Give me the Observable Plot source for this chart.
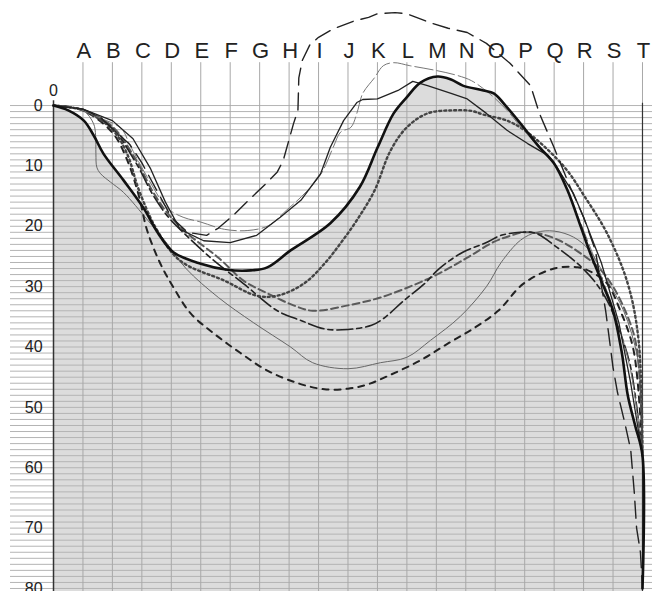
<!DOCTYPE html>
<html>
<head>
<meta charset="utf-8">
<script src="https://cdn.jsdelivr.net/npm/d3@7"></script>
<script src="https://cdn.jsdelivr.net/npm/@observablehq/plot@0.6"></script>
<style>
  html, body { margin: 0; padding: 0; background: #fff; }
  #chart svg { display: block; }
</style>
</head>
<body>
<div id="chart"></div>
<script>
// Column labels along the top (positions 1..20)
const columnLabels = ["A","B","C","D","E","F","G","H","I","J","K","L","M","N","O","P","Q","R","S","T"];
// Depth ticks (downward)
const depthTicks = [0, 10, 20, 30, 40, 50, 60, 70, 80];
const minorDepths = d3.range(0, 81, 1);

// Series: [position, depth]
const thickSolid = [[0,0],[0.5,0.8],[1.03,2.5],[1.37,5],[1.7,8],[2.38,12.4],[3.06,17],[3.53,21],[4.07,24.3],[5,26.2],[5.9,27.2],[6.7,27.3],[7.26,26.8],[8.05,24],[9.4,19.5],[10.4,13.5],[11,7],[11.55,1.3],[12,-1.4],[12.46,-3.8],[13.04,-4.8],[13.5,-4.3],[13.9,-3.3],[14.6,-2.5],[14.95,-2],[15.4,0.3],[15.96,3.6],[16.5,6.9],[17,9.6],[17.45,14],[17.9,20],[18.23,24.5],[18.6,29],[19.0,34],[19.3,41],[19.5,48],[19.75,53],[20,58],[20,80]];
const dotted = [[0,0],[1,0.8],[2,4],[2.5,8],[2.9,14],[3.5,20.5],[4.3,25.7],[5.8,29],[6.9,31.5],[7.6,31.5],[8.5,29.5],[9.2,26.2],[9.75,22.8],[10.3,19],[10.9,14.1],[11.44,7.5],[12,3.6],[12.7,1.3],[13.5,0.8],[14.2,0.9],[14.6,1.5],[15.4,2.5],[16,4.1],[16.8,7.4],[17.45,10.8],[18,14.8],[18.8,21.2],[19.5,29.5],[19.87,39],[20,58]];
const thinGraySolid = [[0,0],[1.0,0.8],[1.36,3],[1.43,5],[1.44,8],[1.47,10.2],[1.6,11.3],[1.94,12.7],[2.38,14.4],[3.2,19],[3.8,22.5],[4.5,27],[5.6,31.8],[6.8,36],[8.05,40],[8.8,42.6],[10,43.6],[11.1,42.6],[12,41.7],[12.8,38.9],[13.8,35],[14.7,30],[15.2,26],[15.86,22.3],[16.4,21],[17,20.8],[17.66,21.8],[18.2,24],[18.8,29],[19.36,34],[19.83,41.7],[19.93,47.7],[20,58]];
const thinBlackSolid = [[0,0],[1,0.6],[2,2.5],[2.7,5.5],[3.3,10.5],[3.8,16],[4.3,20.5],[5.1,22.4],[6.0,22.7],[6.9,21.5],[7.7,18.5],[8.4,15.7],[9.07,11.3],[9.4,6.9],[9.85,2.5],[10.3,-0.5],[10.5,-1],[11,-1.1],[11.7,-2.5],[12.2,-4],[12.7,-3.3],[13.5,-2],[14.05,-1.1],[14.7,1.3],[15.4,4.1],[16.1,6.3],[16.8,8.3],[17.1,10.3],[17.66,14.6],[18,18.5],[18.6,26],[19.2,36],[19.6,46],[20,58]];
const thinGrayDashed = [[0,0],[0.8,0.5],[1.6,2.1],[2.3,3.8],[2.6,6.6],[3.2,12],[3.87,17],[4.4,18.5],[5.0,19.3],[5.8,20.5],[6.6,20.7],[7.3,19.9],[7.9,17.4],[8.6,14.2],[9.1,11.2],[9.5,6.9],[9.75,4.4],[10.1,3.6],[10.3,1.3],[10.5,-2],[10.9,-4.6],[11.2,-6.6],[11.55,-7.1],[12.1,-6.6],[13.0,-5.8],[13.7,-5],[14.2,-4.1],[14.8,-2],[15.4,0.8],[15.96,4.1],[16.6,7.5],[17.1,10.5],[17.9,19.5],[18.5,27],[19.1,35],[19.6,44],[20,58]];
const longDash = [[0,0],[1,0.6],[1.6,2],[2.6,6.5],[3.0,9.5],[3.5,14],[4.0,18.5],[4.55,21],[5.2,21.5],[5.6,20.3],[6.1,18.2],[6.6,15.8],[7.2,13],[7.6,11],[7.8,9.1],[8.15,3],[8.3,0.8],[8.33,-4.6],[8.45,-7.5],[8.7,-10],[9.0,-11.3],[9.5,-12.7],[10.2,-14],[10.7,-14.6],[11,-15.2],[11.6,-15.4],[12.0,-15.2],[12.8,-13.7],[13.4,-12.8],[14.05,-12.1],[14.7,-10.3],[15.5,-7],[16.2,-3.3],[16.5,1.3],[17,7],[17.5,13],[18,18.5],[18.4,24],[18.75,34],[19.0,43.4],[19.15,47.5],[19.4,52.6],[19.6,57],[19.72,64],[19.8,70],[19.93,74],[20,80]];
const mediumDashGray = [[0,0],[1,0.7],[2,3.5],[2.8,9],[3.4,14.5],[3.9,18],[4.55,21.2],[5.6,25.2],[6.45,29],[7.26,31.1],[8.15,33.1],[8.8,34],[10,33.1],[11.1,31.8],[12.2,29.8],[13.1,27.8],[14.05,25.2],[14.95,22.6],[15.5,21.6],[15.96,21],[16.5,21.2],[17.2,22.4],[17.9,24.5],[18.5,26.8],[19,30],[19.5,35],[19.8,40],[20,58]];
const dashDot = [[0,0],[1,0.7],[2,3.8],[2.8,9.5],[3.4,15],[3.9,18.5],[4.4,21],[5.4,25.5],[6.45,29.5],[7.6,34],[8.4,35.6],[9.2,37],[10,37.1],[10.8,36.4],[11.2,35.3],[11.9,32.3],[12.6,29.5],[13.1,27],[13.9,24.3],[14.7,22.7],[15.2,21.5],[15.86,21],[16.4,21.2],[17.1,23.5],[17.8,26.2],[18.35,29],[18.8,32.3],[19.25,37.7],[19.6,43.4],[20,58]];
const shortDash = [[0,0],[1,0.8],[2,4.5],[2.5,9],[2.9,15],[3.18,20.7],[3.63,26.2],[4.07,30.1],[4.65,34.4],[5.43,37.7],[6.35,41],[7.26,43.9],[8.3,46],[9.2,47],[10,46.9],[10.66,46.2],[11.4,44.7],[12.46,42.2],[13.4,39.4],[14.3,36.8],[15.1,34],[15.96,29.5],[17,27],[17.8,26.8],[18.35,27.8],[18.8,29.5],[19.25,34],[19.7,40.6],[20,58]];

const X = d => d[0], Y = d => d[1];
const cr = "catmull-rom";

const chart = Plot.plot({
  width: 652,
  height: 591,
  marginLeft: 0, marginRight: 0, marginTop: 0, marginBottom: 0,
  x: {domain: [-1.8, 20.34], axis: null},
  y: {domain: [-17.4, 80.5], reverse: true, axis: null},
  style: {fontFamily: "'Liberation Sans', Arial, sans-serif", background: "#fff"},
  marks: [
    // shaded region below the thick profile
    Plot.areaY(thickSolid, {x: X, y1: 80.5, y2: Y, fill: "#dcdcdc", curve: cr}),
    // horizontal grid, every unit
    Plot.ruleY(minorDepths, {x1: -1.46, x2: 20.34, stroke: "#b4b4b4", strokeWidth: 1}),
    // vertical grid at each column
    Plot.ruleX(d3.range(1, 21), {y1: -7.1, y2: 80.5, stroke: "#a8a8a8", strokeWidth: 1}),
    // left axis and right border
    Plot.ruleX([0], {y1: -0.8, y2: 80.5, stroke: "#333", strokeWidth: 1.5}),
    Plot.ruleX([20], {y1: -0.4, y2: 80.5, stroke: "#333", strokeWidth: 1.2}),
    // series
    Plot.line(thinGraySolid, {x: X, y: Y, stroke: "#666", strokeWidth: 1, curve: cr}),
    Plot.line(shortDash, {x: X, y: Y, stroke: "#222", strokeWidth: 2, strokeDasharray: "6,6", curve: cr}),
    Plot.line(mediumDashGray, {x: X, y: Y, stroke: "#5a5a5a", strokeWidth: 2, strokeDasharray: "7,4", curve: cr}),
    Plot.line(dashDot, {x: X, y: Y, stroke: "#222", strokeWidth: 1.6, strokeDasharray: "16,4,5,4", curve: cr}),
    Plot.line(dotted, {x: X, y: Y, stroke: "#444", strokeWidth: 2.4, strokeDasharray: "2,3", curve: cr}),
    Plot.line(thinGrayDashed, {x: X, y: Y, stroke: "#777", strokeWidth: 1, strokeDasharray: "18,4", curve: cr}),
    Plot.line(thinBlackSolid, {x: X, y: Y, stroke: "#222", strokeWidth: 1.3, curve: "linear"}),
    Plot.line(longDash, {x: X, y: Y, stroke: "#222", strokeWidth: 1.4, strokeDasharray: "17,8", curve: "linear"}),
    Plot.line(thickSolid, {x: X, y: Y, stroke: "#111", strokeWidth: 2.6, curve: cr}),
    // labels
    Plot.text(columnLabels, {x: (d, i) => i + 1, y: -9.1, text: d => d, fontSize: 22, fill: "#222", dx: 1}),
    Plot.text(depthTicks, {x: -0.37, y: d => d, text: d => String(d), fontSize: 16, fill: "#222", textAnchor: "end"}),
    Plot.text(["0"], {x: 0, y: -2.5, text: d => d, fontSize: 16, fill: "#222"})
  ]
});
document.getElementById("chart").appendChild(chart);
</script>
</body>
</html>
